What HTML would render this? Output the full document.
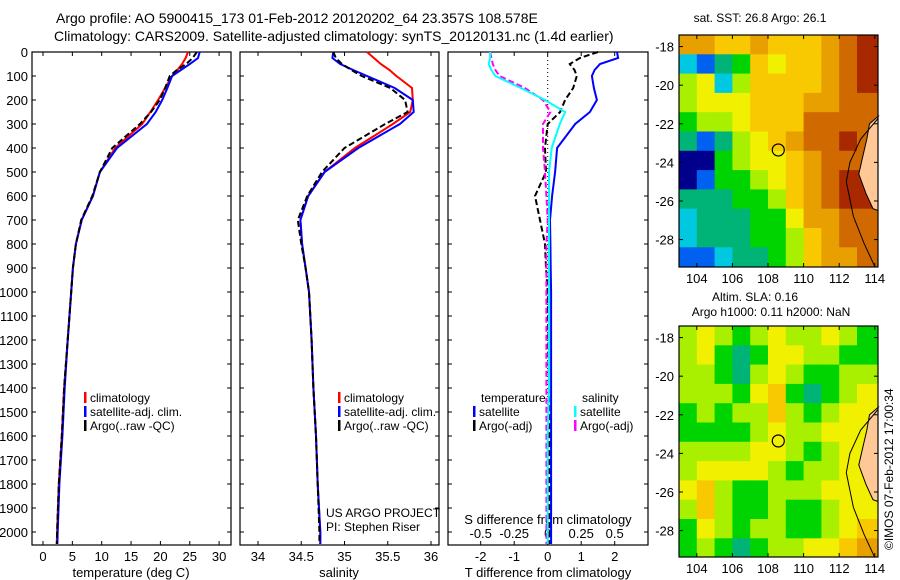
<!DOCTYPE html>
<html><head><meta charset="utf-8">
<style>
html,body{margin:0;padding:0;background:#fff;}
svg{display:block;font-family:"Liberation Sans",sans-serif;}
text{font-size:13px;fill:#000;}
</style></head>
<body>
<svg id="fig" width="900" height="580" viewBox="0 0 900 580" xmlns="http://www.w3.org/2000/svg">
<text x="56" y="23" style="font-size:14px">Argo profile: AO 5900415_173 01-Feb-2012 20120202_64 23.357S 108.578E</text>
<text x="54" y="41" style="font-size:14px">Climatology: CARS2009. Satellite-adjusted climatology: synTS_20120131.nc (1.4d earlier)</text>
<g id="g"></g>
<text transform="translate(893,550) rotate(-90)" style="font-size:12px">©IMOS 07-Feb-2012 17:00:34</text>
</svg>
<script>
// ---------- data ----------
const depths = [0,25,50,75,100,150,200,250,300,400,500,600,700,800,900,1000,1200,1400,1600,1800,2000,2050];
const tempClim = [24.7,24.3,23.7,22.9,22.0,20.8,19.6,18.3,16.9,12.3,9.7,8.5,6.6,5.6,5.1,4.8,4.2,3.6,3.2,2.7,2.4,2.35];
const tempSat  = [26.7,26.4,25.0,23.5,22.0,21.2,20.3,19.2,17.7,12.6,9.7,8.5,6.6,5.6,5.1,4.8,4.2,3.7,3.3,2.8,2.5,2.45];
const tempArgo = [26.2,25.5,24.4,22.8,21.6,20.8,19.9,18.4,16.5,11.8,9.7,8.4,6.5,5.6,5.1,4.8,4.2,3.6,3.2,2.7,2.4,2.35];
const salClim = [35.26,35.34,35.42,35.52,35.60,35.78,35.79,35.76,35.56,35.12,34.77,34.58,34.49,34.51,34.55,34.59,34.62,34.64,34.67,34.69,34.72,34.72];
const salSat  = [34.87,34.86,34.95,35.10,35.26,35.58,35.79,35.80,35.64,35.16,34.77,34.58,34.49,34.51,34.55,34.59,34.62,34.64,34.67,34.69,34.72,34.72];
const salArgo = [34.87,34.90,34.97,35.08,35.20,35.53,35.70,35.73,35.47,35.00,34.74,34.57,34.46,34.50,34.55,34.59,34.62,34.64,34.67,34.69,34.71,34.71];
const dTSat  = [2.07,2.1,1.56,1.4,1.32,1.38,1.47,1.26,0.82,0.28,0.22,0.13,0.07,0.08,0.09,0.1,0.1,0.1,0.1,0.1,0.1,0.1];
const dTArgo = [1.5,0.96,0.66,0.8,0.87,0.76,0.52,0.37,0.0,-0.08,-0.05,-0.38,-0.23,-0.08,-0.05,0.0,0.02,0.04,0.05,0.05,0.05,0.05];
const dSSat  = [-0.43,-0.43,-0.44,-0.42,-0.39,-0.2,-0.02,0.13,0.09,0.03,0.01,0.01,0.01,0.01,0.01,0.01,0.01,0.01,0.0,0.0,0.0,0.0];
const dSArgo = [-0.43,-0.42,-0.41,-0.39,-0.36,-0.17,-0.035,0.02,-0.035,-0.035,-0.02,-0.01,0.0,-0.01,-0.01,-0.01,-0.01,-0.01,-0.01,-0.01,-0.01,-0.01];
const depthTicks = [0,100,200,300,400,500,600,700,800,900,1000,1100,1200,1300,1400,1500,1600,1700,1800,1900,2000];
const tempTicks = [0,5,10,15,20,25,30];
const salTicks = [34,34.5,35,35.5,36];
const salTickLabels = ["34","34.5","35","35.5","36"];
const dTTicks = [-2,-1,0,1,2];
const dSTicks = [-0.5,-0.25,0,0.25,0.5];
const dSTickLabels = ["-0.5","-0.25","0","0.25","0.5"];
const mapLonTicks = [104,106,108,110,112,114];
const mapLatTicks = [-18,-20,-22,-24,-26,-28];
const sstGrid = [
[8,8,7,7,8,7,7,7,8,9,10],
[2,1,3,4,7,6,7,7,8,9,10],
[5,6,2,5,7,7,7,7,8,9,10],
[5,6,6,6,7,7,7,8,8,9,9],
[4,5,5,6,7,7,7,9,9,9,9],
[3,1,3,5,6,7,8,9,9,10,9],
[0,0,4,5,6,6,7,8,9,9,9],
[0,1,4,4,5,6,7,8,9,10,10],
[3,3,3,4,4,5,7,8,9,10,10],
[2,3,3,3,4,4,6,8,8,9,9],
[2,3,3,3,4,4,5,7,8,9,9],
[1,1,2,3,3,4,5,7,8,8,9]];
const slaGrid = [
[5,6,5,4,5,6,5,5,6,5,4],
[5,6,4,3,4,6,6,5,5,4,4],
[5,5,4,3,5,6,5,4,4,5,5],
[5,5,5,4,6,7,4,3,4,5,6],
[4,5,4,5,5,7,5,4,5,6,6],
[4,4,4,4,5,6,5,5,6,6,6],
[5,5,5,5,6,6,5,4,5,6,6],
[5,6,6,6,6,5,4,5,5,6,6],
[6,7,5,4,4,5,5,5,6,6,6],
[5,7,5,4,4,5,4,4,5,6,6],
[4,6,5,4,5,5,4,4,5,6,7],
[4,5,4,3,4,5,5,6,6,7,8]];
const landLon = [114.2,113.7,113.55,113.3,113.1,113.5,113.9,114.2];
const landLat = [-21.6,-22.0,-22.8,-23.8,-24.6,-25.6,-26.4,-26.5];
const shelfLon = [114.2,113.2,112.6,112.4,112.8,113.4,114.0];
const shelfLat = [-21.7,-22.8,-24.0,-25.0,-26.8,-28.2,-29.4];
const argoLon = 108.578, argoLat = -23.357;

const palette = ["#00008c","#0060f0","#00c8e0","#00b478","#00d400","#a8f000","#f0f000","#f8c800","#e8a000","#d06a00","#a82800"];

// ---------- helpers ----------
const NS="http://www.w3.org/2000/svg";
const G=document.getElementById('g');
function mk(tag,attrs,parent){const e=document.createElementNS(NS,tag);for(const k in attrs)e.setAttribute(k,attrs[k]);(parent||G).appendChild(e);return e;}
function txt(s,x,y,anchor,parent,size){const t=mk('text',{x:x,y:y,'text-anchor':anchor||'start'},parent);if(size)t.style.fontSize=size+'px';t.textContent=s;return t;}

const pTop=52,pBot=545;
const yD=d=>pTop+d*0.24;

function panel(name,x0,x1){
  const g=mk('g',{});
  
  
  mk('rect',{x:x0,y:pTop,width:x1-x0,height:pBot-pTop,fill:'none',stroke:'#000','stroke-width':1.2},g);
  depthTicks.forEach(d=>{
    const y=yD(d);
    const l=mk('line',{x1:x0,x2:x0+4,y1:y,y2:y,stroke:'#000'},g);
    
    
    mk('line',{x1:x1-4,x2:x1,y1:y,y2:y,stroke:'#000'},g);
  });
  return g;
}
function series(g,name,xs,fx,color,dash,w){
  const pts=xs.map((v,i)=>fx(v).toFixed(1)+','+yD(depths[i]).toFixed(1)).join(' ');
  const p=mk('polyline',{points:pts,fill:'none',stroke:color,'stroke-width':w||2,'stroke-dasharray':dash||'none'},g);
  
  
}
function xTicks(g,ticks,labels,fx,ly,topTicks){
  ticks.forEach((t,i)=>{
    const x=fx(t);
    mk('line',{x1:x,x2:x,y1:pBot,y2:pBot-4,stroke:'#000'},g);
    if(topTicks) mk('line',{x1:x,x2:x,y1:pTop,y2:pTop+4,stroke:'#000'},g);
    const tl=txt(labels[i],x,ly,'middle',g);
    
    
  });
}
function legendEntry(g,x,y,color,label){
  const m=mk('rect',{x:x,y:y-10,width:2.5,height:11,fill:color},g);
  
  
  const t=txt(label,x+6,y,'start',g,12);
  
  
}

// ---------- panel 1: temperature ----------
const fT=t=>43+t*5.87;
const p1=panel('temperature-panel',32,231);
depthTicks.forEach(d=>{const t=txt(String(d),28,yD(d)+5,'end',p1);});
xTicks(p1,tempTicks,tempTicks.map(String),fT,561,true);
const xl1=txt('temperature (deg C)',131,577,'middle',p1);
series(p1,'temp-climatology-line',tempClim,fT,'#ff0000');
series(p1,'temp-satellite-line',tempSat,fT,'#0000ff');
series(p1,'temp-argo-line',tempArgo,fT,'#000','6,3');
legendEntry(p1,84,402,'#ff0000','climatology');
legendEntry(p1,84,416,'#0000ff','satellite-adj. clim.');
legendEntry(p1,84,430,'#000','Argo(..raw -QC)');

// ---------- panel 2: salinity ----------
const fS=s=>258+(s-34)*86.5;
const p2=panel('salinity-panel',240,439);
xTicks(p2,salTicks,salTickLabels,fS,561,true);
const xl2=txt('salinity',339,577,'middle',p2);
series(p2,'sal-climatology-line',salClim,fS,'#ff0000');
series(p2,'sal-satellite-line',salSat,fS,'#0000ff');
series(p2,'sal-argo-line',salArgo,fS,'#000','6,3');
legendEntry(p2,338,402,'#ff0000','climatology');
legendEntry(p2,338,416,'#0000ff','satellite-adj. clim.');
legendEntry(p2,338,430,'#000','Argo(..raw -QC)');
const c1=txt('US ARGO PROJECT',326,517,'start',p2,12);
const c2=txt('PI: Stephen Riser',326,531,'start',p2,12);

// ---------- panel 3: differences ----------
const fdT=v=>547.7+v*33.5;
const fdS=v=>547.7+v*134;
const p3=panel('difference-panel',448,648);
mk('line',{x1:547.7,x2:547.7,y1:pTop,y2:pBot,stroke:'#000','stroke-dasharray':'1,3'},p3);
dTTicks.forEach(t=>{mk('line',{x1:fdT(t),x2:fdT(t),y1:pTop,y2:pTop+4,stroke:'#000'},p3);});
xTicks(p3,dTTicks,dTTicks.map(String),fdT,561,false);
dSTicks.forEach((t,i)=>{const tl=txt(dSTickLabels[i],fdS(t),538,'middle',p3);});
const s3=txt('S difference from climatology',548,524,'middle',p3);
const t3=txt('T difference from climatology',548,577,'middle',p3);
series(p3,'dT-argo-line',dTArgo,fdT,'#000','6,3');
series(p3,'dT-satellite-line',dTSat,fdT,'#0000ff');
series(p3,'dS-argo-line',dSArgo,fdS,'#ff00ff','6,3');
series(p3,'dS-satellite-line',dSSat,fdS,'#00ffff');
const lh1=txt('temperature',481,402,'start',p3,12);
legendEntry(p3,473,416,'#0000ff','satellite');
legendEntry(p3,473,430,'#000','Argo(-adj)');
const lh2=txt('salinity',582,402,'start',p3,12);
legendEntry(p3,574,416,'#00ffff','satellite');
legendEntry(p3,574,430,'#ff00ff','Argo(-adj)');

// ---------- maps ----------
function map(name,gridData,mx0,my0,mx1,my1,latTop){
  const g=mk('g',{});
  
  
  const fx=lon=>mx0+(lon-103)*17.8;
  const fy=lat=>my0+(latTop-lat)*19.3;
  gridData.forEach((row,r)=>row.forEach((v,c)=>{
    const x=fx(103+c), y=fy(latTop-r);
    const x2=Math.min(fx(104+c),mx1), y2=Math.min(fy(latTop-r-1),my1);
    if(c===row.length-1){}
    const cell=mk('rect',{x:x,y:y,width:(c===row.length-1?mx1:x2)-x+0.5,height:(r===gridData.length-1?my1:y2)-y+0.5,fill:palette[v]},g);
    
    
  }));
  const landPts=landLon.map((l,i)=>fx(l).toFixed(1)+','+fy(landLat[i]).toFixed(1));
  landPts.push(mx1+','+fy(-26.5).toFixed(1));landPts.push(mx1+','+fy(-21.6).toFixed(1));
  const land=mk('polygon',{points:landPts.join(' '),fill:'#ffc896',stroke:'#000','stroke-width':1},g);
  
  
  const sh=mk('polyline',{points:shelfLon.map((l,i)=>fx(l).toFixed(1)+','+fy(shelfLat[i]).toFixed(1)).join(' '),fill:'none',stroke:'#000','stroke-width':1},g);
  
  
  const ci=mk('circle',{cx:fx(argoLon),cy:fy(argoLat),r:6,fill:'none',stroke:'#000','stroke-width':1.2},g);
  
  
  mk('rect',{x:mx0,y:my0,width:mx1-mx0,height:my1-my0,fill:'none',stroke:'#000','stroke-width':1.2},g);
  mapLonTicks.forEach(l=>{const x=fx(l);mk('line',{x1:x,x2:x,y1:my1,y2:my1-4,stroke:'#000'},g);mk('line',{x1:x,x2:x,y1:my0,y2:my0+4,stroke:'#000'},g);
    const t=txt(String(l),x,my1+16,'middle',g);});
  mapLatTicks.forEach(l=>{const y=fy(l);mk('line',{x1:mx0,x2:mx0+4,y1:y,y2:y,stroke:'#000'},g);mk('line',{x1:mx1-4,x2:mx1,y1:y,y2:y,stroke:'#000'},g);
    const t=txt(String(l),mx0-5,y+5,'end',g);});
  return g;
}
const m1=map('sst-map',sstGrid,679,35,878,267,-17.4);
const mt1=txt('sat. SST: 26.8  Argo: 26.1',760,22,'middle',m1,12);
const m2=map('sla-map',slaGrid,679,326,878,557,-17.4);
const mt2=txt('Altim. SLA: 0.16',755,301,'middle',m2,12);
const mt3=txt('Argo h1000: 0.11 h2000: NaN',771,316,'middle',m2,12);
</script>
</body></html>
